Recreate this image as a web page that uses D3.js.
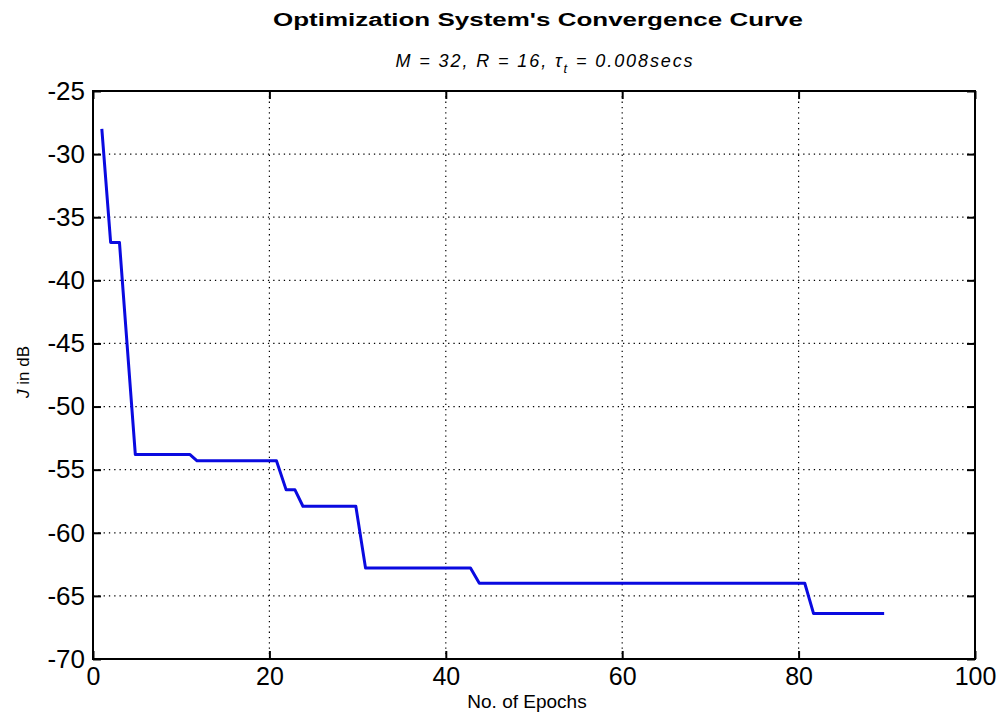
<!DOCTYPE html>
<html>
<head>
<meta charset="utf-8">
<script src="https://cdn.jsdelivr.net/npm/d3@7/dist/d3.min.js"></script>
<style>
  html, body { margin: 0; padding: 0; background: #fff; }
  svg { display: block; }
  text { font-family: "Liberation Sans", Arial, sans-serif; fill: #000; }
</style>
</head>
<body>
<svg id="chart" width="1003" height="715"></svg>
<script>
// Convergence of the cost J (dB) over training epochs
const epochs = [1, 2, 3, 4.8, 11, 11.8, 20.8, 21.9, 22.9, 23.8, 29.8, 30.9, 42.8, 43.8, 80.7, 81.7, 89.7];
const costDb = [-28, -37, -37, -53.8, -53.8, -54.3, -54.3, -56.6, -56.6, -57.9, -57.9, -62.8, -62.8, -64, -64, -66.4, -66.4];

const xTicks = [0, 20, 40, 60, 80, 100];
const yTicks = [-70, -65, -60, -55, -50, -45, -40, -35, -30, -25];

const titleText = "Optimization System's Convergence Curve";
const xLabelText = "No. of Epochs";

const svg = d3.select("#chart");
const plot = { left: 93, right: 975, top: 91, bottom: 659 };

const x = d3.scaleLinear().domain([0, 100]).range([plot.left, plot.right]);
const y = d3.scaleLinear().domain([-70, -25]).range([plot.bottom, plot.top]);

// plain hyphen-minus labels
const fmt = d => String(d);

// dotted grid
const grid = svg.append("g");
grid.selectAll("line.gx").data(xTicks.slice(1, -1)).join("line")
  .attr("x1", d => x(d)).attr("x2", d => x(d))
  .attr("y1", plot.top).attr("y2", plot.bottom)
  .attr("stroke", "#000").attr("stroke-width", 1.2).attr("stroke-dasharray", "1.3,4");
grid.selectAll("line.gy").data(yTicks.slice(1, -1)).join("line")
  .attr("y1", d => y(d)).attr("y2", d => y(d))
  .attr("x1", plot.left).attr("x2", plot.right)
  .attr("stroke", "#000").attr("stroke-width", 1.2).attr("stroke-dasharray", "1.3,4");

// axes: ticks point inward on all four sides
const tickLen = 8;
const bottomAxis = d3.axisBottom(x).tickValues(xTicks).tickSize(-tickLen).tickPadding(8).tickFormat(fmt);
const topAxis = d3.axisTop(x).tickValues(xTicks).tickSize(-tickLen).tickFormat("");
const leftAxis = d3.axisLeft(y).tickValues(yTicks).tickSize(-tickLen).tickPadding(8).tickFormat(fmt);
const rightAxis = d3.axisRight(y).tickValues(yTicks).tickSize(-tickLen).tickFormat("");

function styleAxis(g) {
  g.select(".domain").remove();
  g.selectAll(".tick line").attr("stroke", "#000").attr("stroke-width", 2);
}

const gb = svg.append("g").attr("transform", `translate(0,${plot.bottom})`).call(bottomAxis).call(styleAxis);
gb.selectAll(".tick text")
  .attr("font-size", 25).attr("font-family", "'Liberation Sans', Arial, sans-serif")
  .attr("fill", "#000").attr("y", 26).attr("dy", 0);

svg.append("g").attr("transform", `translate(0,${plot.top})`).call(topAxis).call(styleAxis);
const gl = svg.append("g").attr("transform", `translate(${plot.left},0)`).call(leftAxis).call(styleAxis);
gl.selectAll(".tick text").attr("font-size", 26).attr("fill", "#000")
  .attr("x", -8).attr("font-family", "'Liberation Sans', Arial, sans-serif");
svg.append("g").attr("transform", `translate(${plot.right},0)`).call(rightAxis).call(styleAxis);

// frame
svg.append("rect")
  .attr("x", plot.left).attr("y", plot.top)
  .attr("width", plot.right - plot.left).attr("height", plot.bottom - plot.top)
  .attr("fill", "none").attr("stroke", "#000").attr("stroke-width", 2);

// curve
const line = d3.line().x((d, i) => x(epochs[i])).y(d => y(d));
svg.append("path")
  .datum(costDb)
  .attr("d", line)
  .attr("fill", "none")
  .attr("stroke", "#0a0ae0")
  .attr("stroke-width", 3)
  .attr("stroke-linejoin", "round");

// title
svg.append("text")
  .attr("x", 538).attr("y", 26)
  .attr("text-anchor", "middle")
  .attr("font-size", 18).attr("font-weight", "bold")
  .attr("textLength", 530).attr("lengthAdjust", "spacingAndGlyphs")
  .text(titleText);

// subtitle with subscript tau
const sub = svg.append("text")
  .attr("x", 545).attr("y", 67)
  .attr("text-anchor", "middle")
  .attr("font-size", 18).attr("font-style", "italic")
  .attr("letter-spacing", 1.9)
  .attr("fill", "#222");
sub.append("tspan").text("M = 32, R = 16, ");
sub.append("tspan").text("\u03C4");
sub.append("tspan").attr("dy", 6).attr("font-size", 13).text("t");
sub.append("tspan").attr("dy", -6).text(" = 0.008secs");

// y label
const yl = svg.append("text")
  .attr("transform", "translate(29,372) rotate(-90)")
  .attr("text-anchor", "middle")
  .attr("font-size", 17)
  .attr("fill", "#222");
yl.append("tspan").attr("font-style", "italic").text("J");
yl.append("tspan").text(" in dB");

// x label
svg.append("text")
  .attr("x", 527).attr("y", 708)
  .attr("text-anchor", "middle")
  .attr("font-size", 19)
  .attr("fill", "#222")
  .text(xLabelText);
</script>
</body>
</html>
